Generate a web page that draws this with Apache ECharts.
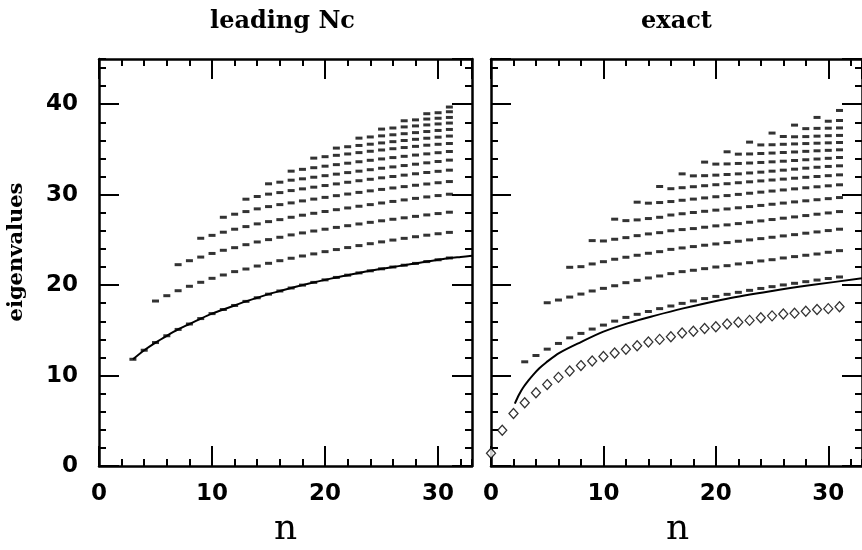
<!DOCTYPE html>
<html>
<head>
<meta charset="utf-8">
<script src="https://cdn.jsdelivr.net/npm/echarts@6/dist/echarts.min.js"></script>
<style>html,body{margin:0;padding:0;background:#fff}#c{width:862px;height:550px}</style>
</head>
<body>
<div id="c"></div>
<script>
// ---------- data ----------
const panelTitles = ['leading Nc', 'exact'];
const xAxisTitle = 'n';
const yAxisTitle = 'eigenvalues';
const xMax = 33, yMax = 45, majorStep = 10, minorStep = 2;

// first n of each eigenvalue level (level k starts at n = 2k+1)
const levelStart = [3,5,7,9,11,13,15,17,19,21,23,25,27,29,31];

// leading Nc panel: eigenvalue levels, one value per integer n from its start to 31
const leadingLevels = [
  [11.8,12.8,13.65,14.4,15.1,15.7,16.3,16.85,17.3,17.75,18.2,18.6,19.0,19.35,19.68,20.0,20.3,20.58,20.85,21.1,21.35,21.58,21.8,22.0,22.2,22.4,22.6,22.8,23.0],
  [18.24,18.83,19.38,19.87,20.31,20.75,21.12,21.49,21.78,22.11,22.41,22.7,22.97,23.22,23.45,23.7,23.93,24.15,24.37,24.58,24.78,24.98,25.17,25.35,25.52,25.68,25.83],
  [22.26,22.7,23.1,23.5,23.85,24.14,24.47,24.77,25.03,25.29,25.55,25.77,25.98,26.18,26.38,26.57,26.76,26.94,27.11,27.28,27.44,27.6,27.76,27.91,28.06],
  [25.18,25.5,25.85,26.18,26.47,26.77,27.02,27.24,27.5,27.73,27.94,28.14,28.34,28.53,28.72,28.9,29.08,29.25,29.42,29.59,29.75,29.9,30.05],
  [27.5,27.84,28.13,28.43,28.68,28.9,29.09,29.31,29.51,29.7,29.89,30.07,30.25,30.42,30.58,30.74,30.89,31.04,31.18,31.32,31.45],
  [29.5,29.8,30.06,30.23,30.45,30.64,30.83,31.01,31.19,31.37,31.54,31.7,31.86,32.01,32.16,32.31,32.45,32.58,32.71],
  [31.2,31.38,31.6,31.75,31.93,32.1,32.27,32.44,32.6,32.76,32.92,33.07,33.22,33.37,33.52,33.67,33.82],
  [32.6,32.8,32.98,33.15,33.32,33.48,33.64,33.8,33.95,34.1,34.24,34.38,34.51,34.64,34.77],
  [34.04,34.2,34.35,34.5,34.65,34.8,34.94,35.08,35.21,35.34,35.47,35.57,35.66],
  [35.15,35.3,35.44,35.58,35.72,35.86,35.99,36.12,36.24,36.36,36.48],
  [36.25,36.38,36.5,36.62,36.74,36.86,36.98,37.1,37.21],
  [37.25,37.37,37.49,37.6,37.71,37.82,37.92],
  [38.17,38.27,38.36,38.45,38.54],
  [38.95,39.06,39.17],
  [39.69]
];
// leading Nc solid curve: follows the lowest level, then continues to the frame
const leadingCurveTailN = [32, 33];
const leadingCurveTailVal = [23.12, 23.24];

// exact panel: eigenvalue levels
const exactLevels = [
  [11.52,12.22,12.92,13.55,14.17,14.66,15.14,15.58,16.02,16.43,16.77,17.08,17.4,17.69,17.98,18.25,18.51,18.75,18.98,19.2,19.42,19.63,19.83,20.02,20.2,20.38,20.56,20.73,20.9],
  [18.05,18.35,18.68,19.01,19.35,19.64,19.93,20.27,20.53,20.79,21.01,21.27,21.49,21.64,21.82,22.0,22.15,22.34,22.48,22.67,22.81,23.0,23.15,23.3,23.44,23.63,23.81],
  [21.97,22.04,22.34,22.59,22.86,23.08,23.3,23.52,23.7,23.95,24.11,24.26,24.41,24.55,24.7,24.85,25.0,25.14,25.29,25.44,25.58,25.74,25.88,26.03,26.18],
  [24.92,24.88,25.07,25.25,25.47,25.66,25.8,26.01,26.14,26.25,26.4,26.55,26.66,26.8,26.95,27.1,27.25,27.4,27.54,27.69,27.84,27.98,28.13],
  [27.29,27.13,27.21,27.36,27.5,27.75,27.89,28.03,28.16,28.29,28.42,28.55,28.68,28.81,28.94,29.07,29.2,29.32,29.44,29.56,29.68],
  [29.17,29.06,29.13,29.24,29.38,29.51,29.64,29.77,29.9,30.03,30.16,30.28,30.4,30.52,30.64,30.76,30.87,30.98,31.09],
  [30.9,30.66,30.77,30.88,30.99,31.1,31.21,31.32,31.42,31.52,31.62,31.72,31.82,31.92,32.01,32.1,32.19],
  [32.3,32.08,32.1,32.16,32.23,32.3,32.4,32.49,32.6,32.71,32.82,32.93,33.03,33.12,33.19],
  [33.6,33.38,33.4,33.45,33.5,33.56,33.63,33.7,33.78,33.86,33.94,34.02,34.11],
  [34.74,34.48,34.5,34.55,34.6,34.66,34.72,34.79,34.85,34.9,34.96],
  [35.81,35.5,35.52,35.57,35.61,35.65,35.69,35.73,35.77],
  [36.81,36.43,36.4,36.42,36.47,36.52,36.55],
  [37.69,37.3,37.33,37.35,37.38],
  [38.54,38.12,38.2],
  [39.31]
];
// exact panel solid curve
const exactCurveN   = [2.12,2.5,2.85,3.3,3.73,4.3,4.91,6.09,8,10,12.2,14.5,17,21,25,28.5,33];
const exactCurveVal = [6.9,7.9,8.65,9.4,10.05,10.8,11.45,12.5,13.7,14.85,15.8,16.6,17.4,18.5,19.35,20.0,20.75];
// exact panel diamonds, n = 0..31
const diamondN   = [0,1,2,3,4,5,6,7,8,9,10,11,12,13,14,15,16,17,18,19,20,21,22,23,24,25,26,27,28,29,30,31];
const diamondVal = [1.4,3.95,5.8,7.0,8.1,9.0,9.8,10.5,11.1,11.6,12.1,12.5,12.9,13.3,13.7,14.0,14.3,14.7,14.9,15.2,15.4,15.7,15.9,16.1,16.4,16.6,16.8,16.9,17.1,17.3,17.4,17.6];

// ---------- build ----------
function dashPoints(levels) {
  const pts = [];
  levels.forEach((lv, k) => lv.forEach((v, i) => pts.push([levelStart[k] + i, v])));
  return pts;
}
const leadingCurve = leadingLevels[0].map((v, i) => [levelStart[0] + i, v])
  .concat(leadingCurveTailN.map((n, i) => [n, leadingCurveTailVal[i]]));
const exactCurve = exactCurveN.map((n, i) => [n, exactCurveVal[i]]);
const diamonds = diamondN.map((n, i) => [n, diamondVal[i]]);

const BLACK = '#000';
const labelFont = {color: BLACK, fontSize: 23, fontWeight: 'bold', fontFamily: 'DejaVu Sans'};

function xAxes(g, showLabels) {
  const base = (pos, interval, len, line, labels) => ({
    gridIndex: g, type: 'value', min: 0, max: xMax, interval: interval, position: pos,
    axisLine: {show: line, onZero: false, lineStyle: {color: BLACK, width: 2.5}},
    axisTick: {show: true, inside: true, length: len, lineStyle: {color: BLACK, width: 2}},
    axisLabel: Object.assign({show: labels, showMaxLabel: false, margin: 17}, labelFont),
    splitLine: {show: false}, minorTick: {show: false}
  });
  return [
    base('bottom', majorStep, 20, true, showLabels),
    base('bottom', minorStep, 7, false, false),
    base('top', majorStep, 20, true, false),
    base('top', minorStep, 7, false, false)
  ];
}
function yAxes(g, showLabels) {
  const base = (pos, interval, len, line, labels) => ({
    gridIndex: g, type: 'value', min: 0, max: yMax, interval: interval, position: pos,
    axisLine: {show: line, onZero: false, lineStyle: {color: BLACK, width: 2.5}},
    axisTick: {show: true, inside: true, length: len, lineStyle: {color: BLACK, width: 2}},
    axisLabel: Object.assign({show: labels, showMaxLabel: false, margin: 21}, labelFont),
    splitLine: {show: false}, minorTick: {show: false}
  });
  return [
    base('left', majorStep, 20, true, showLabels),
    base('left', minorStep, 7, false, false),
    base('right', majorStep, 20, true, false),
    base('right', minorStep, 7, false, false)
  ];
}

const grids = [
  {left: 99, top: 59, width: 373, height: 407},
  {left: 491, top: 59, width: 373, height: 407}
];
const centers = grids.map(g => g.left + g.width / 2);

const dashStyle = {type: 'scatter', symbol: 'rect', symbolSize: [7, 3], itemStyle: {color: BLACK}, silent: true};
const curveStyle = {type: 'line', showSymbol: false, smooth: 0.3, lineStyle: {color: BLACK, width: 2}, silent: true};

const option = {
  animation: false,
  backgroundColor: '#fff',
  grid: grids,
  xAxis: xAxes(0, true).concat(xAxes(1, true)),
  yAxis: yAxes(0, true).concat(yAxes(1, false)),
  series: [
    Object.assign({}, curveStyle, {xAxisIndex: 0, yAxisIndex: 0, data: leadingCurve}),
    Object.assign({}, dashStyle, {xAxisIndex: 0, yAxisIndex: 0, data: dashPoints(leadingLevels)}),
    Object.assign({}, curveStyle, {xAxisIndex: 4, yAxisIndex: 4, data: exactCurve}),
    Object.assign({}, dashStyle, {xAxisIndex: 4, yAxisIndex: 4, data: dashPoints(exactLevels)}),
    {type: 'scatter', xAxisIndex: 4, yAxisIndex: 4, symbol: 'diamond', symbolSize: [9, 10], silent: true,
     itemStyle: {color: '#fff', borderColor: BLACK, borderWidth: 1.3}, data: diamonds}
  ],
  graphic: [
    {type: 'text', x: centers[0] - 3, y: 22, style: {text: panelTitles[0], fill: BLACK, font: 'bold 24px "DejaVu Serif"', align: 'center', verticalAlign: 'middle'}},
    {type: 'text', x: centers[1] - 1, y: 22, style: {text: panelTitles[1], fill: BLACK, font: 'bold 24px "DejaVu Serif"', align: 'center', verticalAlign: 'middle'}},
    {type: 'text', x: centers[0], y: 530, style: {text: xAxisTitle, fill: BLACK, font: '36px "DejaVu Serif"', align: 'center', verticalAlign: 'middle'}},
    {type: 'text', x: centers[1], y: 530, style: {text: xAxisTitle, fill: BLACK, font: '36px "DejaVu Serif"', align: 'center', verticalAlign: 'middle'}},
    {type: 'text', x: 17, y: 252, rotation: Math.PI / 2, style: {text: yAxisTitle, fill: BLACK, font: 'bold 21px "DejaVu Serif"', align: 'center', verticalAlign: 'middle'}}
  ]
};
const chart = echarts.init(document.getElementById('c'), null, {renderer: 'canvas'});
chart.setOption(option);
</script>
</body>
</html>
